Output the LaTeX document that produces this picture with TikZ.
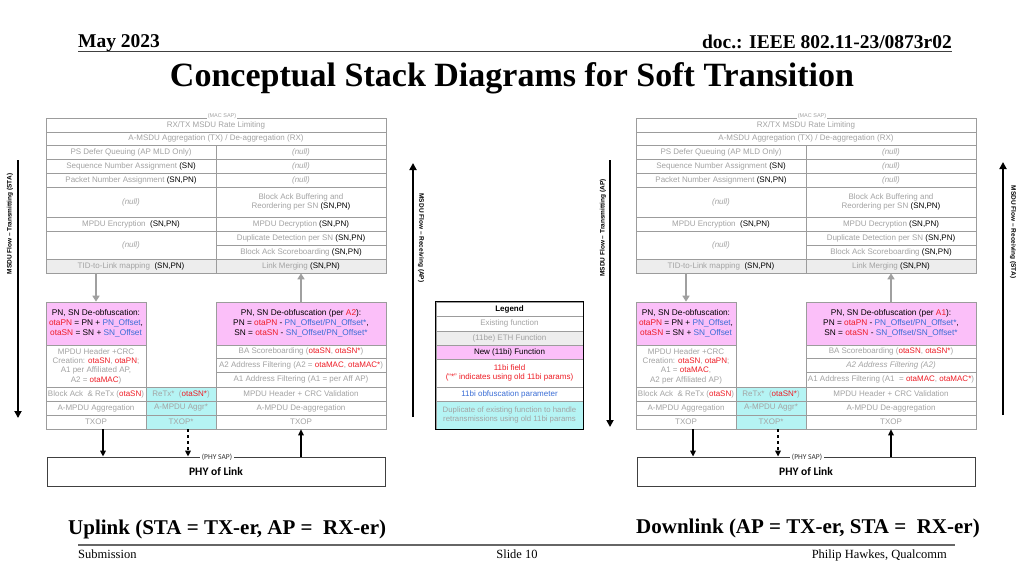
\documentclass[tikz,border=0pt]{standalone}
\usepackage{fontspec}
\setmainfont{Liberation Sans}
\newfontfamily\tnr{Liberation Serif}
\newfontfamily\carl{Carlito}
\usetikzlibrary{arrows.meta,calc}
\definecolor{txtgray}{HTML}{A3A3A3}
\definecolor{linegray}{HTML}{9C9C9C}
\definecolor{pinkfill}{HTML}{FBBFF9}
\definecolor{cyanfill}{HTML}{B5F4F4}
\definecolor{ethgray}{HTML}{EDEDED}
\definecolor{otared}{HTML}{EE1C25}
\definecolor{offblue}{HTML}{3B6ED6}
\definecolor{arrowgray}{HTML}{A0A0A0}
\newcommand\blk[1]{\textcolor{black}{#1}}
\newcommand\ota[1]{\textcolor{otared}{#1}}
\newcommand\offb[1]{\textcolor{offblue}{#1}}
\newcommand\nullcell{\textit{(null)}}
\tikzset{
 cellbase/.style={draw=linegray, line width=0.6pt, inner sep=0pt, align=center, text=txtgray, font=\fontsize{8}{9.4}\selectfont},
 pinkcell/.style={fill=pinkfill, text=black, font=\fontsize{8.3}{9.7}\selectfont},
 cyancell/.style={fill=cyanfill},
 ethcell/.style={fill=ethgray},
 grayarrow/.style={draw=arrowgray, line width=2pt, -{Triangle[length=6pt,width=7pt]}},
 flowarrow/.style={draw=black, line width=1.8pt, -{Triangle[length=7pt,width=7pt]}},
 phyarrow/.style={draw=black, line width=1.5pt, -{Triangle[length=6pt,width=5.5pt]}},
 flowlabel/.style={font=\bfseries\fontsize{6.5}{7}\selectfont, inner sep=0pt},
 sap/.style={font=\carl\fontsize{7.5}{8}\selectfont, text=black!80, fill=white, inner sep=1.5pt},
 macsap/.style={font=\fontsize{5.5}{6}\selectfont, text=txtgray, fill=white, inner sep=1pt},
}
\newcommand\cel[7]{\node[cellbase,#6,minimum width={#4pt-#2pt},minimum height={#5pt-#3pt}] (#1) at ({(#2+#4)/2},{(#3+#5)/2}) {#7};}
\newcommand\upperstack{%
\cel{rate}{46}{118}{386}{132}{}{RX/TX MSDU Rate Limiting}
\cel{amsdu}{46}{132}{386}{145}{}{A-MSDU Aggregation (TX) / De-aggregation (RX)}
\cel{psq}{46}{145}{216}{159}{}{PS Defer Queuing (AP MLD Only)}
\cel{psqn}{216}{145}{386}{159}{}{\nullcell}
\cel{sna}{46}{159}{216}{173}{}{Sequence Number Assignment \blk{(SN)}}
\cel{snan}{216}{159}{386}{173}{}{\nullcell}
\cel{pna}{46}{173}{216}{187}{}{Packet Number Assignment \blk{(SN,PN)}}
\cel{pnan}{216}{173}{386}{187}{}{\nullcell}
\cel{baln}{46}{187}{216}{217}{}{\nullcell}
\cel{bab}{216}{187}{386}{217}{}{Block Ack Buffering and\\Reordering per SN \blk{(SN,PN)}}
\cel{enc}{46}{217}{216}{231}{}{MPDU Encryption \ \blk{(SN,PN)}}
\cel{dec}{216}{217}{386}{231}{}{MPDU Decryption \blk{(SN,PN)}}
\cel{ddn}{46}{231}{216}{259}{}{\nullcell}
\cel{dd}{216}{231}{386}{245}{}{Duplicate Detection per SN \blk{(SN,PN)}}
\cel{bas}{216}{245}{386}{259}{}{Block Ack Scoreboarding \blk{(SN,PN)}}
\cel{tid}{46}{259}{216}{273}{ethcell}{TID-to-Link mapping \ \blk{(SN,PN)}}
\cel{lm}{216}{259}{386}{273}{ethcell}{Link Merging \blk{(SN,PN)}}
\node[macsap] (mac) at (222,116.5) {(MAC SAP)};
}
\newcommand\lowerstack[4]{%
\cel{pinkL}{46}{302}{146}{345}{pinkcell}{PN, SN De-obfuscation:\\\ota{otaPN} = PN + \offb{PN\_Offset},\\\ota{otaSN} = SN + \offb{SN\_Offset}}
\cel{hdr}{46}{345}{146}{387}{font=\fontsize{8}{9.3}\selectfont}{#1}
\cel{retx}{46}{387}{146}{401}{}{Block Ack \ \& ReTx (\ota{otaSN})}
\cel{ampdu}{46}{401}{146}{415}{}{A-MPDU Aggregation}
\cel{txopL}{46}{415}{146}{429}{}{TXOP}
\cel{retxs}{146}{387}{216}{401}{cyancell}{ReTx* \ (\ota{otaSN*})}
\cel{ampdus}{146}{401}{216}{415}{cyancell}{A-MPDU Aggr*}
\cel{txopS}{146}{415}{216}{429}{cyancell}{TXOP*}
\cel{pinkR}{216}{302}{386}{345}{pinkcell}{#2}
\cel{basc}{216}{345}{386}{358}{}{BA Scoreboarding (\ota{otaSN}, \ota{otaSN*})}
\cel{a2f}{216}{358}{386}{372}{}{#3}
\cel{a1f}{216}{372}{386}{387}{}{#4}
\cel{crcv}{216}{387}{386}{401}{}{MPDU Header + CRC Validation}
\cel{deagg}{216}{401}{386}{415}{}{A-MPDU De-aggregation}
\cel{txopR}{216}{415}{386}{429}{}{TXOP}
\draw[grayarrow] (pinkL.north |- tid.south) -- (pinkL.north);
\draw[grayarrow] (pinkR.north) -- (pinkR.north |- lm.south);
\node[draw=black!75, line width=0.8pt, minimum width=338pt, minimum height=29pt, inner sep=0pt, font=\carl\bfseries\fontsize{11.5}{13}\selectfont] (phy) at (216,471.5) {PHY of Link};
\node[sap] (physap) at (217,457) {(PHY SAP)};
\draw[phyarrow] ([xshift=7pt]txopL.south) -- ([xshift=7pt]txopL.south |- phy.north);
\draw[phyarrow, dashed] ([xshift=7pt]txopS.south) -- ([xshift=7pt]txopS.south |- phy.north);
\draw[phyarrow] (txopR.south |- phy.north) -- (txopR.south);
}
\begin{document}
\begin{tikzpicture}[x=1pt,y=-1pt]
\useasboundingbox (0,0) rectangle (1024,576);
\fill[white] (0,0) rectangle (1024,576);
% header
\node[anchor=base west, inner sep=0pt, font=\tnr\bfseries\fontsize{19.5}{22}\selectfont] (date) at (78,47) {May 2023};
\node[anchor=base east, inner sep=0pt, font=\tnr\bfseries\fontsize{19.5}{22}\selectfont] (doc) at (952,48) {doc.: IEEE 802.11-23/0873r02};
\coordinate (hl) at (78,51.5); \coordinate (hr) at (952,51.5);
\draw[line width=1.5pt, black!75] (hl) -- (hr);
\node[anchor=base, inner sep=0pt, font=\tnr\bfseries\fontsize{34}{40}\selectfont] (title) at (512,86) {Conceptual Stack Diagrams for Soft Transition};
% left stack
\begin{scope}[name prefix=L-]
\upperstack
\lowerstack{MPDU Header +CRC\\Creation: \ota{otaSN}, \ota{otaPN};\\A1 per Affiliated AP,\\A2 = \ota{otaMAC})}{PN, SN De-obfuscation (per \ota{A2}):\\PN = \ota{otaPN} - \offb{PN\_Offset/PN\_Offset*},\\SN = \ota{otaSN} - \offb{SN\_Offset/PN\_Offset*}}{A2 Address Filtering (A2 = \ota{otaMAC}, \ota{otaMAC*})}{A1 Address Filtering (A1 = per Aff AP)}
\end{scope}
% right stack
\begin{scope}[xshift=590pt, name prefix=R-]
\upperstack
\lowerstack{MPDU Header +CRC\\Creation: \ota{otaSN}, \ota{otaPN};\\A1 = \ota{otaMAC},\\A2 per Affiliated AP)}{PN, SN De-obfuscation (per \ota{A1}):\\PN = \ota{otaPN} - \offb{PN\_Offset/PN\_Offset*},\\SN = \ota{otaSN} - \offb{SN\_Offset/SN\_Offset*}}{\textit{A2 Address Filtering (A2)}}{A1 Address Filtering (A1 \ = \ota{otaMAC}, \ota{otaMAC*})}
\end{scope}
% legend
\cel{lg}{436}{302}{583}{316}{text=black,font=\bfseries\fontsize{8}{9.4}\selectfont}{Legend}
\cel{lg1}{436}{316}{583}{331}{}{Existing function}
\cel{lg2}{436}{331}{583}{345}{ethcell}{(11be) ETH Function}
\cel{lg3}{436}{345}{583}{359}{pinkcell,font=\fontsize{8}{9.4}\selectfont}{New (11bi) Function}
\cel{lg4}{436}{359}{583}{387}{text=otared}{11bi field\\(“*” indicates using old 11bi params)}
\cel{lg5}{436}{387}{583}{401}{text=offblue}{11bi obfuscation parameter}
\cel{lg6}{436}{401}{583}{429}{cyancell,font=\fontsize{7.8}{8.8}\selectfont}{Duplicate of existing function to handle\\retransmissions using old 11bi params}
\draw[black, line width=1pt] (lg.north west) rectangle (lg6.south east);
% flow arrows
\coordinate (f1t) at (18,160); \coordinate (f1b) at (18,418);
\draw[flowarrow] (f1t) -- (f1b);
\node[flowlabel, rotate=90] (f1l) at (10,224) {MSDU Flow – Transmitting (STA)};
\coordinate (f2b) at (413,417); \coordinate (f2t) at (413,163);
\draw[flowarrow] (f2b) -- (f2t);
\node[flowlabel, rotate=-90] (f2l) at (421,238) {MSDU Flow – Receiving (AP)};
\coordinate (f3t) at (610,160); \coordinate (f3b) at (610,427);
\draw[flowarrow] (f3t) -- (f3b);
\node[flowlabel, rotate=90] (f3l) at (603,228) {MSDU Flow – Transmitting (AP)};
\coordinate (f4b) at (1003,415); \coordinate (f4t) at (1003,162);
\draw[flowarrow] (f4b) -- (f4t);
\node[flowlabel, rotate=-90] (f4l) at (1013,232) {MSDU Flow – Receiving (STA)};
% captions
\node[anchor=base west, inner sep=0pt, font=\tnr\bfseries\fontsize{21}{24}\selectfont] (up) at (68,534) {Uplink (STA = TX-er, AP = \ RX-er)};
\node[anchor=base east, inner sep=0pt, font=\tnr\bfseries\fontsize{21}{24}\selectfont] (down) at (980,533) {Downlink (AP = TX-er, STA = \ RX-er)};
% footer
\coordinate (fl) at (78,544.5); \coordinate (fr) at (955,544.5);
\draw[line width=2pt, black!60] (fl) -- (fr);
\node[anchor=base west, inner sep=0pt, font=\tnr\fontsize{12.5}{14}\selectfont] (sub) at (78,558) {Submission};
\node[anchor=base, inner sep=0pt, font=\tnr\fontsize{12.5}{14}\selectfont] (slide) at (517,558) {Slide 10};
\node[anchor=base east, inner sep=0pt, font=\tnr\fontsize{12.5}{14}\selectfont] (auth) at (947,558) {Philip Hawkes, Qualcomm};
\end{tikzpicture}
\end{document}
